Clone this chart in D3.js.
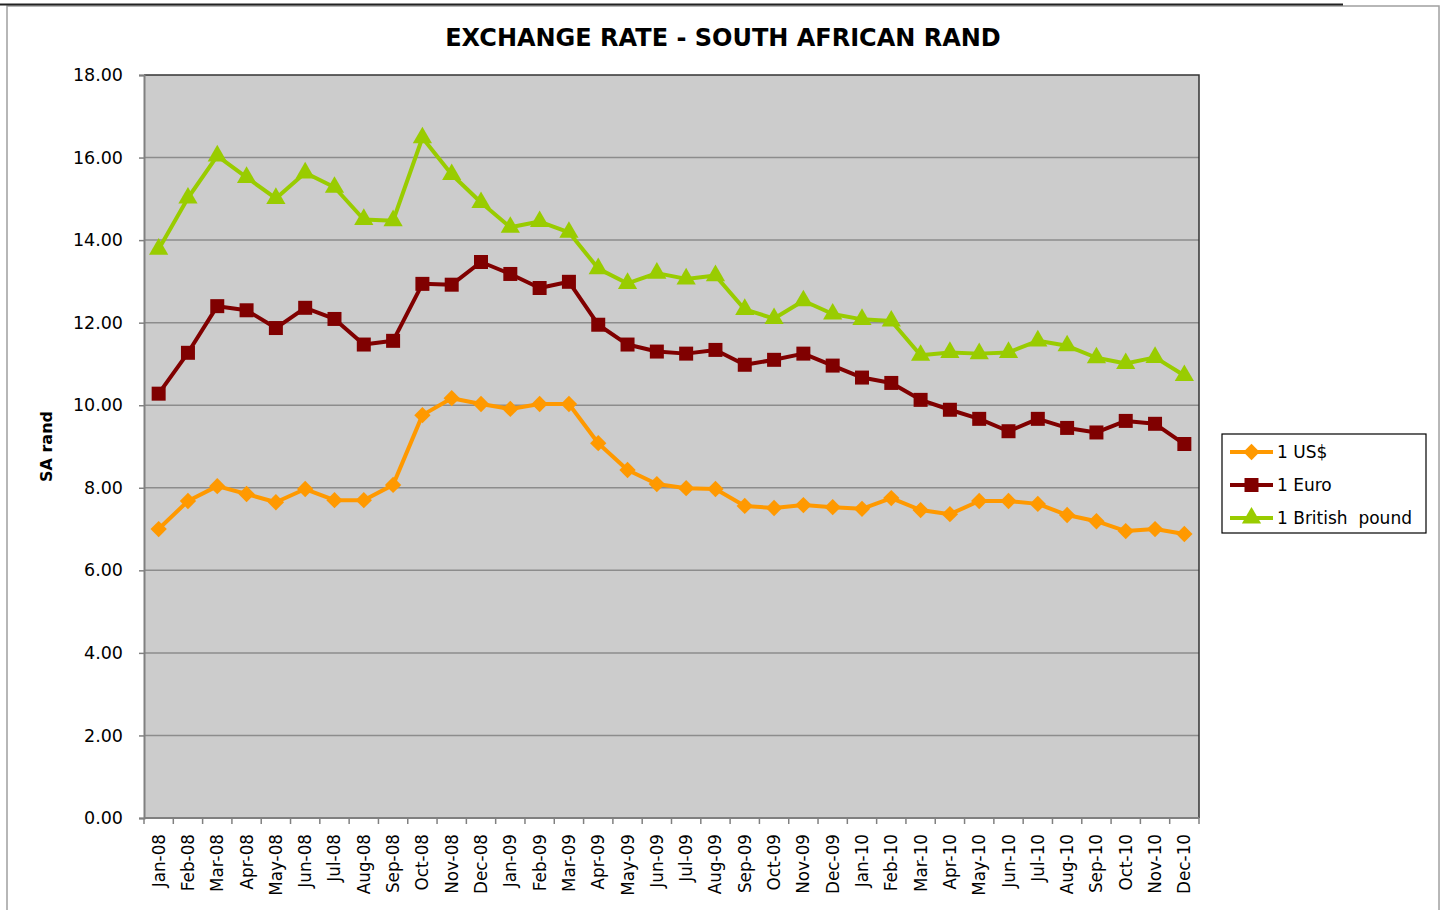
<!DOCTYPE html>
<html>
<head>
<meta charset="utf-8">
<script src="https://d3js.org/d3.v7.min.js"></script>
<style>
  body { margin: 0; background: #fff; }
  svg { display: block; font-family: "DejaVu Sans", Verdana, sans-serif; }
</style>
</head>
<body>
<div id="chart"></div>
<script>
// months on the x axis
var months = ["Jan-08","Feb-08","Mar-08","Apr-08","May-08","Jun-08","Jul-08","Aug-08","Sep-08","Oct-08","Nov-08","Dec-08",
  "Jan-09","Feb-09","Mar-09","Apr-09","May-09","Jun-09","Jul-09","Aug-09","Sep-09","Oct-09","Nov-09","Dec-09",
  "Jan-10","Feb-10","Mar-10","Apr-10","May-10","Jun-10","Jul-10","Aug-10","Sep-10","Oct-10","Nov-10","Dec-10"];

var usd = [7.00,7.68,8.04,7.85,7.65,7.97,7.70,7.70,8.07,9.76,10.17,10.03,
  9.91,10.03,10.03,9.08,8.43,8.09,7.99,7.97,7.56,7.51,7.58,7.53,
  7.49,7.75,7.46,7.36,7.68,7.68,7.61,7.34,7.19,6.95,7.00,6.88];
var euro = [10.28,11.27,12.40,12.30,11.87,12.36,12.09,11.47,11.56,12.94,12.92,13.47,
  13.18,12.84,12.99,11.95,11.47,11.30,11.25,11.34,10.98,11.10,11.25,10.96,
  10.67,10.54,10.13,9.89,9.67,9.37,9.67,9.45,9.34,9.62,9.55,9.06];
var gbp = [13.78,15.02,16.04,15.52,15.01,15.63,15.28,14.50,14.47,16.48,15.59,14.91,
  14.31,14.45,14.19,13.31,12.95,13.20,13.06,13.14,12.32,12.10,12.53,12.21,
  12.08,12.04,11.21,11.28,11.25,11.28,11.56,11.44,11.15,11.01,11.16,10.72];

var yTicks = [0,2,4,6,8,10,12,14,16,18];

var series = [
  {name: "1 US$", values: usd, color: "#FF9900", shape: d3.symbolDiamond2, size: 170},
  {name: "1 Euro", values: euro, color: "#800000", shape: d3.symbolSquare, size: 196},
  {name: "1 British  pound", values: gbp, color: "#99CC00", shape: d3.symbolTriangle, size: 160}
];

var W = 1446, H = 910;
var svg = d3.select("#chart").append("svg").attr("width", W).attr("height", H);

// outer frame
svg.append("rect").attr("x", 7).attr("y", 6).attr("width", 1432).attr("height", 920)
  .attr("fill", "none").attr("stroke", "#a0a0a0").attr("stroke-width", 1.5);
svg.append("line").attr("x1", 0).attr("x2", 1343).attr("y1", 4.5).attr("y2", 4.5)
  .attr("stroke", "#222").attr("stroke-width", 2);

var pLeft = 144, pRight = 1199, pTop = 75, pBottom = 818;

var x = d3.scaleBand().domain(months).range([pLeft, pRight]);
var y = d3.scaleLinear().domain([0, 18]).range([pBottom, pTop]);

// plot background
svg.append("rect").attr("x", pLeft).attr("y", pTop).attr("width", pRight - pLeft).attr("height", pBottom - pTop)
  .attr("fill", "#cccccc");

// gridlines
svg.append("g").selectAll("line").data(yTicks.filter(function(d){ return d > 0 && d < 18; }))
  .enter().append("line")
  .attr("x1", pLeft).attr("x2", pRight)
  .attr("y1", function(d){ return y(d); }).attr("y2", function(d){ return y(d); })
  .attr("stroke", "#8c8c8c").attr("stroke-width", 1.5);

// top and right border of plot
svg.append("path").attr("d", "M" + pLeft + "," + pTop + "H" + pRight + "V" + pBottom)
  .attr("fill", "none").attr("stroke", "#333").attr("stroke-width", 1.5);

// y axis
var yAxis = d3.axisLeft(y).tickValues(yTicks).tickFormat(d3.format(".2f")).tickSize(5).tickPadding(16);
var gy = svg.append("g").attr("transform", "translate(" + pLeft + ",0)").call(yAxis);
gy.select(".domain").attr("stroke", "#808080").attr("stroke-width", 2);
gy.selectAll(".tick line").attr("stroke", "#808080").attr("stroke-width", 1.5);
gy.selectAll("text").attr("font-size", 17.5).attr("font-family", "DejaVu Sans").attr("fill", "#000");

// x axis, ticks at category boundaries
var gx = svg.append("g").attr("transform", "translate(0," + pBottom + ")");
gx.append("line").attr("x1", pLeft).attr("x2", pRight).attr("stroke", "#808080").attr("stroke-width", 2);
gx.selectAll(".xt").data(months.concat(["end"])).enter().append("line")
  .attr("x1", function(d, i){ return pLeft + i * x.bandwidth(); })
  .attr("x2", function(d, i){ return pLeft + i * x.bandwidth(); })
  .attr("y1", 0).attr("y2", 6).attr("stroke", "#808080").attr("stroke-width", 1.5);
gx.selectAll(".xl").data(months).enter().append("text")
  .attr("transform", function(d){ return "translate(" + (x(d) + x.bandwidth() / 2 + 6) + ",16) rotate(-90)"; })
  .attr("text-anchor", "end")
  .attr("font-size", 16.8)
  .text(function(d){ return d; });

// lines and markers
var line = d3.line()
  .x(function(d, i){ return x(months[i]) + x.bandwidth() / 2; })
  .y(function(d){ return y(d); });

series.forEach(function(s) {
  svg.append("path").datum(s.values).attr("d", line)
    .attr("fill", "none").attr("stroke", s.color).attr("stroke-width", 4).attr("stroke-linejoin", "round");
  svg.append("g").selectAll("path").data(s.values).enter().append("path")
    .attr("d", d3.symbol().type(s.shape).size(s.size))
    .attr("transform", function(d, i){ return "translate(" + (x(months[i]) + x.bandwidth() / 2) + "," + y(d) + ")"; })
    .attr("fill", s.color);
});

// title
svg.append("text").attr("x", 723).attr("y", 46).attr("text-anchor", "middle")
  .attr("font-size", 24).attr("font-weight", "bold").text("EXCHANGE RATE - SOUTH AFRICAN RAND");

// y axis title
svg.append("text").attr("transform", "translate(52," + ((pTop + pBottom) / 2) + ") rotate(-90)")
  .attr("text-anchor", "middle").attr("font-size", 16).attr("font-weight", "bold").text("SA rand");

// legend
var lg = svg.append("g").attr("transform", "translate(1222,434)");
lg.append("rect").attr("width", 204).attr("height", 99).attr("fill", "#fff").attr("stroke", "#000").attr("stroke-width", 1.2);
series.forEach(function(s, i) {
  var cy = 18 + i * 33;
  lg.append("line").attr("x1", 8).attr("x2", 51).attr("y1", cy).attr("y2", cy)
    .attr("stroke", s.color).attr("stroke-width", 4);
  lg.append("path").attr("d", d3.symbol().type(s.shape).size(s.size))
    .attr("transform", "translate(29.5," + cy + ")").attr("fill", s.color);
  lg.append("text").attr("x", 55).attr("y", cy + 6).attr("font-size", 17)
    .style("white-space", "pre").text(s.name);
});
</script>
</body>
</html>
